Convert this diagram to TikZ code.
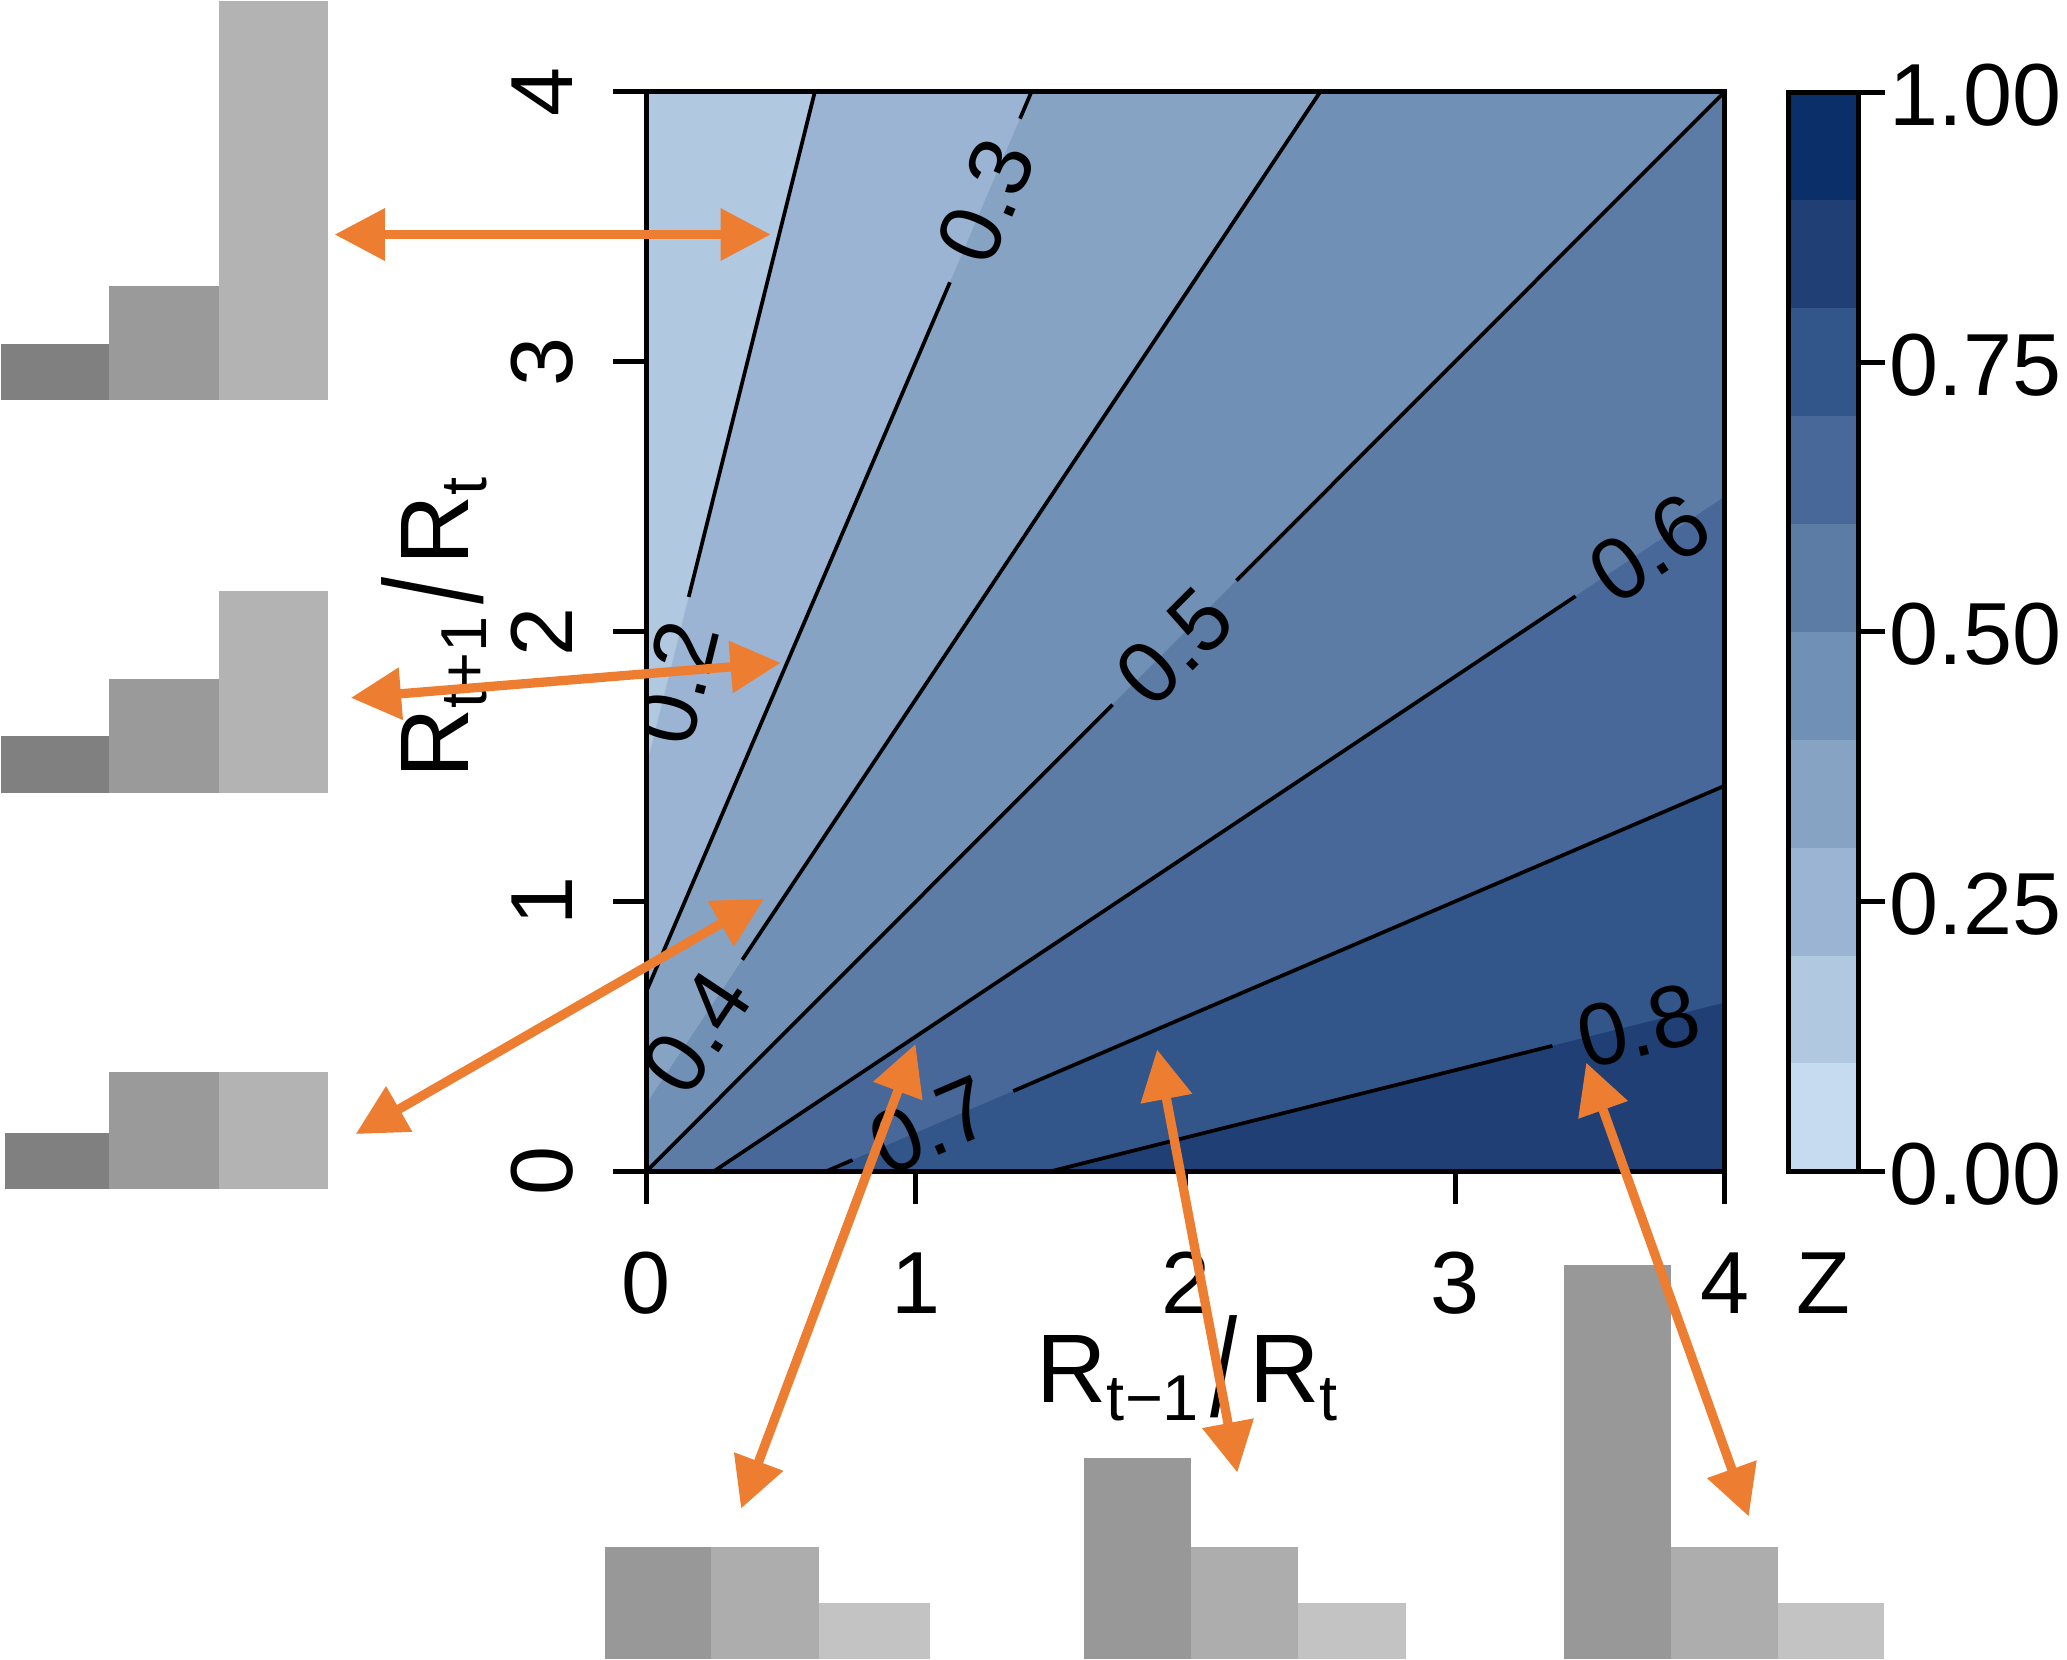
\documentclass[tikz,border=0pt]{standalone}
\usepackage{fontspec}
\setmainfont{Liberation Sans}
\usetikzlibrary{arrows.meta}

\definecolor{zc0}{HTML}{C6DBEF}
\definecolor{zc1}{HTML}{B1C8E1}
\definecolor{zc2}{HTML}{9CB4D3}
\definecolor{zc3}{HTML}{86A3C4}
\definecolor{zc4}{HTML}{7190B5}
\definecolor{zc5}{HTML}{5C7CA6}
\definecolor{zc6}{HTML}{476898}
\definecolor{zc7}{HTML}{32558A}
\definecolor{zc8}{HTML}{1F3F75}
\definecolor{zc9}{HTML}{0A2F69}
\definecolor{arrowor}{HTML}{ED7D31}
\definecolor{gA}{HTML}{808080}
\definecolor{gB}{HTML}{9A9A9A}
\definecolor{gC}{HTML}{B3B3B3}
\definecolor{hA}{HTML}{989898}
\definecolor{hB}{HTML}{ADADAD}
\definecolor{hC}{HTML}{C3C3C3}

\newcommand{\lowix}[1]{\raisebox{-4pt}{\fontsize{14}{14}\selectfont #1}}
\newcommand{\tallslash}{\hspace{2.5pt}\raisebox{-3.1pt}{\scalebox{1}[1.43]{/}}\hspace{2.5pt}}

\tikzset{
  biarrow/.style={draw=arrowor, line width=2pt,
    {Triangle[length=0.38cm,width=0.38cm]}-{Triangle[length=0.38cm,width=0.38cm]}},
  isoline/.style={line width=0.8pt},
  frame/.style={line width=1.1pt},
  ticklab/.style={font=\fontsize{19}{23}\selectfont, inner sep=0pt},
  clab/.style={font=\fontsize{19}{23}\selectfont, inner sep=0pt},
  axlab/.style={font=\fontsize{21}{25}\selectfont, inner sep=0pt},
}

\begin{document}
\begin{tikzpicture}[x=0.01cm, y=-0.01cm]
	\useasboundingbox (0,0) rectangle (1567,1258);

	% bar pictures on the left
	\fill[gA] (1,261) rectangle (83,303);
	\fill[gB] (83,217) rectangle (166,303);
	\fill[gC] (166,1) rectangle (249,303);
	\fill[gA] (1,558) rectangle (83,601);
	\fill[gB] (83,515) rectangle (166,601);
	\fill[gC] (166,448) rectangle (249,601);
	\fill[gA] (3.5,859) rectangle (83,901.5);
	\fill[gB] (83,813) rectangle (166,901.5);
	\fill[gC] (166,813) rectangle (249,901.5);

	% bar pictures at the bottom
	\fill[hA] (459,1173) rectangle (539,1258);
	\fill[hB] (539,1173) rectangle (621,1258);
	\fill[hC] (621,1215) rectangle (705,1258);
	\fill[hA] (822,1105) rectangle (903,1258);
	\fill[hB] (903,1173) rectangle (984,1258);
	\fill[hC] (984,1215) rectangle (1066,1258);
	\fill[hA] (1186,959) rectangle (1267,1258);
	\fill[hB] (1267,1173) rectangle (1348,1258);
	\fill[hC] (1348,1215) rectangle (1428,1258);

	% contour plot, data units
	\begin{scope}[shift={(490,888)}, x=2.0425cm, y=2.045cm]
		\fill[zc1] (0,0) rectangle (4,4);
		\fill[zc2] (0,0) -- (0,1.5) -- (0.625,4) -- (4,4) -- (4,0) -- cycle;
		\fill[zc3] (0,0) -- (0,0.6667) -- (1.4286,4) -- (4,4) -- (4,0) -- cycle;
		\fill[zc4] (0,0) -- (0,0.25) -- (2.5,4) -- (4,4) -- (4,0) -- cycle;
		\fill[zc5] (0,0) -- (4,4) -- (4,0) -- cycle;
		\fill[zc6] (0.25,0) -- (4,2.5) -- (4,0) -- cycle;
		\fill[zc7] (0.6667,0) -- (4,1.4286) -- (4,0) -- cycle;
		\fill[zc8] (1.5,0) -- (4,0.625) -- (4,0) -- cycle;

		\draw[isoline] (0.157,2.128) -- (0.625,4);
		\draw[isoline] (0,0.6667) -- (1.126,3.294) (1.386,3.90) -- (1.4286,4);
		\draw[isoline] (0.356,0.784) -- (2.5,4);
		\draw[isoline] (0,0) -- (1.729,1.729) (2.189,2.189) -- (4,4);
		\draw[isoline] (0.25,0) -- (3.447,2.131);
		\draw[isoline] (0.6667,0) -- (0.765,0.042) (1.361,0.2976) -- (4,1.4286);
		\draw[isoline] (1.5,0) -- (3.361,0.465);

		\begin{scope}
			\clip (0,0) rectangle (4,4);
			\node[clab, rotate=76] (lv2) at (0.11,1.81) {0.2};
			\node[clab, rotate=66.8] (lv3) at (1.26,3.595) {0.3};
			\node[clab, rotate=56.3] (lv4) at (0.185,0.515) {0.4};
			\node[clab, rotate=45] (lv5) at (1.96,1.945) {0.5};
			\node[clab, rotate=33.7] (lv6) at (3.72,2.31) {0.6};
			\node[clab, rotate=23.2] (lv7) at (1.055,0.17) {0.7};
			\node[clab, rotate=14] (lv8) at (3.68,0.54) {0.8};
		\end{scope}

		\draw[frame] (0,0) rectangle (4,4);
		\foreach \t in {0,...,4}{
			\draw[frame] (\t,0) -- ++(0,-0.122);
			\draw[frame] (0,\t) -- ++(-0.122,0);
			\node[ticklab, anchor=base] (xt\t) at (\t,-0.528) {\t};
			\node[ticklab, rotate=90, anchor=base] (yt\t) at (-0.274,\t) {\t};
		}
	\end{scope}

	% colour key
	\foreach \k in {0,...,9}
		\fill[zc\k] (1356,{888-81.8*\k}) rectangle (1409,{888-81.8*(\k+1)});
	\draw[frame] (1356,70) rectangle (1409,888);
	\foreach \v/\lab in {0/0.00, 1/0.25, 2/0.50, 3/0.75, 4/1.00}{
		\draw[frame] (1409,{888-204.5*\v}) -- ++(20,0);
		\node[ticklab, anchor=base west] (zt\v) at (1432,{913-204.5*\v}) {\lab};
	}
	\node[ticklab, anchor=base] (zlab) at (1382,996) {Z};

	\node[axlab, anchor=base] (xlab) at (900,1063) {R\lowix{t−1}\tallslash R\lowix{t}};
	\node[axlab, rotate=90, anchor=base] (ylab) at (355,476) {R\lowix{t+1}\tallslash R\lowix{t}};

	% arrows between bar pictures and points
	\coordinate (chL1) at (253.7,177.8);
	\coordinate (ptL1) at (584.3,177.8);
	\coordinate (chL2) at (266,529);
	\coordinate (ptL2) at (591.8,502.5);
	\coordinate (chL3) at (269.7,859.7);
	\coordinate (ptL3) at (579.3,681.3);
	\coordinate (chB1) at (561.8,1143.6);
	\coordinate (ptB1) at (694,791.5);
	\coordinate (chB2) at (938,1116.3);
	\coordinate (ptB2) at (877.2,795.6);
	\coordinate (chB3) at (1325.7,1149.6);
	\coordinate (ptB3) at (1202.5,805.6);
	\draw[biarrow] (chL1) -- (ptL1);
	\draw[biarrow] (chL2) -- (ptL2);
	\draw[biarrow] (chL3) -- (ptL3);
	\draw[biarrow] (chB1) -- (ptB1);
	\draw[biarrow] (chB2) -- (ptB2);
	\draw[biarrow] (chB3) -- (ptB3);
\end{tikzpicture}
\end{document}
